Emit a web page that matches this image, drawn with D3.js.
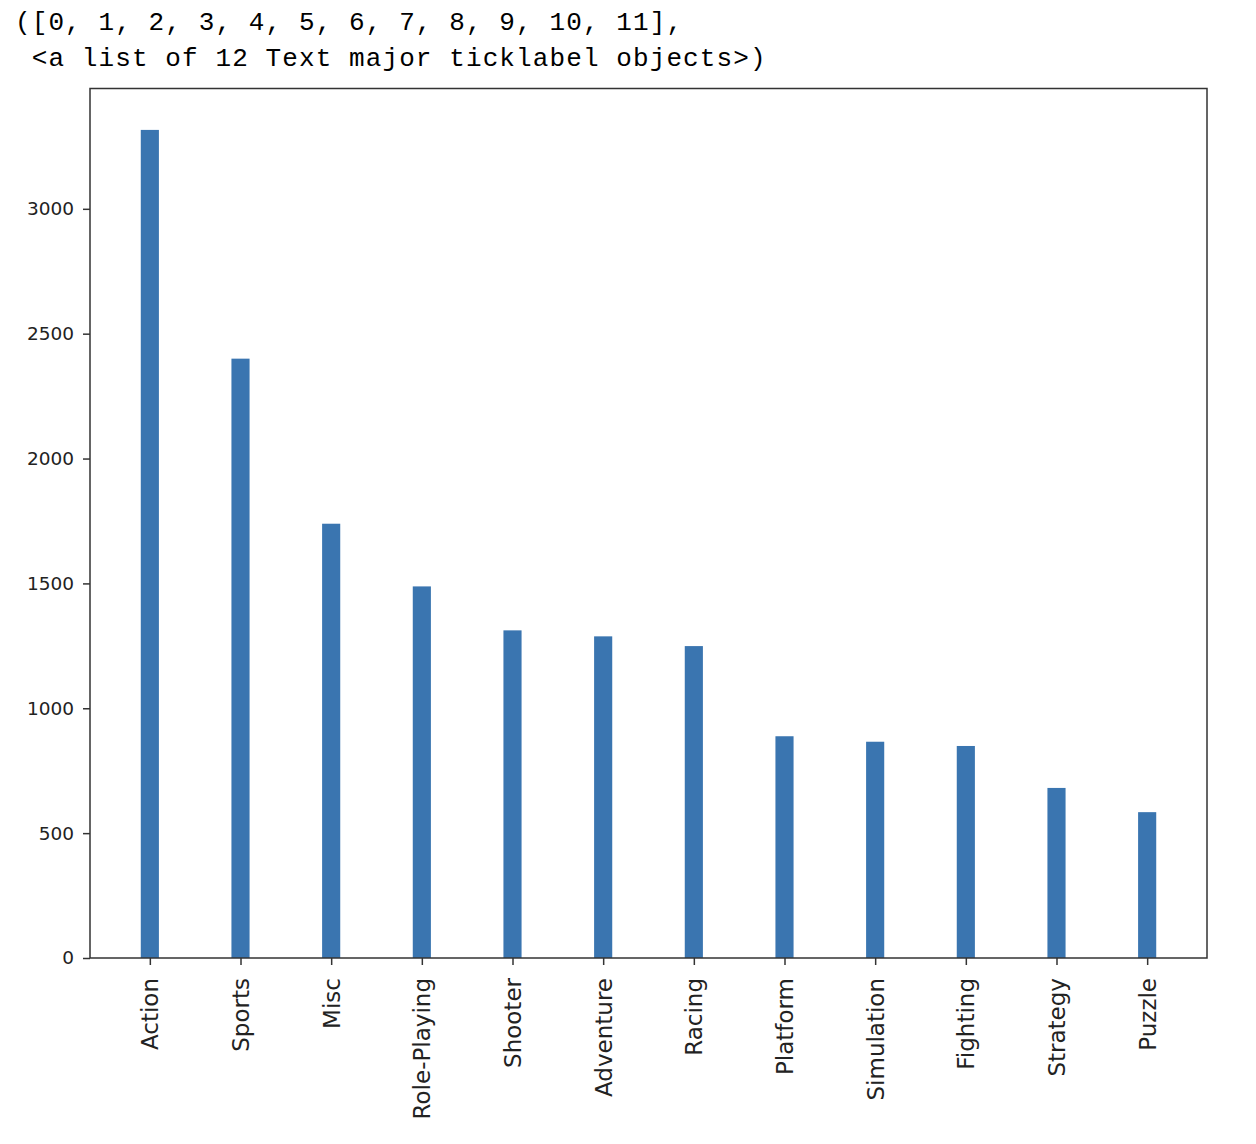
<!DOCTYPE html>
<html>
<head>
<meta charset="utf-8">
<script src="https://cdn.jsdelivr.net/npm/d3@7"></script>
<style>
  html, body { margin: 0; padding: 0; background: #fff; }
  svg { display: block; }
</style>
</head>
<body>
<script>
const categories = ["Action", "Sports", "Misc", "Role-Playing", "Shooter", "Adventure", "Racing", "Platform", "Simulation", "Fighting", "Strategy", "Puzzle"];
const counts = [3316, 2400, 1739, 1488, 1312, 1288, 1249, 888, 866, 849, 681, 584];
const yTicks = [0, 500, 1000, 1500, 2000, 2500, 3000];
const headerLines = ["([0, 1, 2, 3, 4, 5, 6, 7, 8, 9, 10, 11],", " <a list of 12 Text major ticklabel objects>)"];

(function () {
const W = 1256, H = 1144;
const mLeft = 90, mRight = 1207, mTop = 88.5, mBottom = 958;
const barWidth = 0.2;

const svg = d3.select("body").append("svg").attr("width", W).attr("height", H);

// header text (notebook output)
svg.append("g").selectAll("text").data(headerLines).join("text")
  .attr("x", 15).attr("y", (d, i) => 30 + i * 36)
  .attr("font-family", "Liberation Mono, monospace")
  .attr("font-size", 26).attr("letter-spacing", 1.1)
  .attr("fill", "#000")
  .style("white-space", "pre")
  .text(d => d);

const n = categories.length;
const pad = 0.05 * ((n - 1) + barWidth);
const x = d3.scaleLinear().domain([-barWidth / 2 - pad, (n - 1) + barWidth / 2 + pad]).range([mLeft, mRight]);
const y = d3.scaleLinear().domain([0, d3.max(counts) * 1.05]).range([mBottom, mTop]);

// bars
svg.append("g").selectAll("rect").data(counts).join("rect")
  .attr("x", (d, i) => x(i - barWidth / 2))
  .attr("width", (d, i) => x(i + barWidth / 2) - x(i - barWidth / 2))
  .attr("y", d => y(d))
  .attr("height", d => y(0) - y(d))
  .attr("fill", "#3a75b0");

// y axis
const yAxis = svg.append("g").attr("transform", `translate(${mLeft},0)`)
  .call(d3.axisLeft(y).tickValues(yTicks).tickFormat(d3.format("d")).tickSize(7).tickPadding(9));
yAxis.select(".domain").remove();
yAxis.selectAll("line").attr("stroke", "#333").attr("stroke-width", 1.5);
yAxis.selectAll("text").attr("font-family", "DejaVu Sans, sans-serif").attr("font-size", 18.5).attr("fill", "#222");

// x axis
const xAxis = svg.append("g").attr("transform", `translate(0,${mBottom})`)
  .call(d3.axisBottom(x).tickValues(d3.range(n)).tickFormat(i => categories[i]).tickSize(7).tickPadding(12));
xAxis.select(".domain").remove();
xAxis.selectAll("line").attr("stroke", "#333").attr("stroke-width", 1.5);
xAxis.selectAll("text")
  .attr("font-family", "DejaVu Sans, sans-serif").attr("font-size", 23).attr("fill", "#222")
  .attr("text-anchor", "end")
  .attr("dy", "0.35em")
  .attr("transform", "rotate(-90)")
  .attr("x", -20).attr("y", 0);

// frame
svg.append("rect").attr("x", mLeft).attr("y", mTop).attr("width", mRight - mLeft).attr("height", mBottom - mTop)
  .attr("fill", "none").attr("stroke", "#333").attr("stroke-width", 1.5);
})();
</script>
</body>
</html>
